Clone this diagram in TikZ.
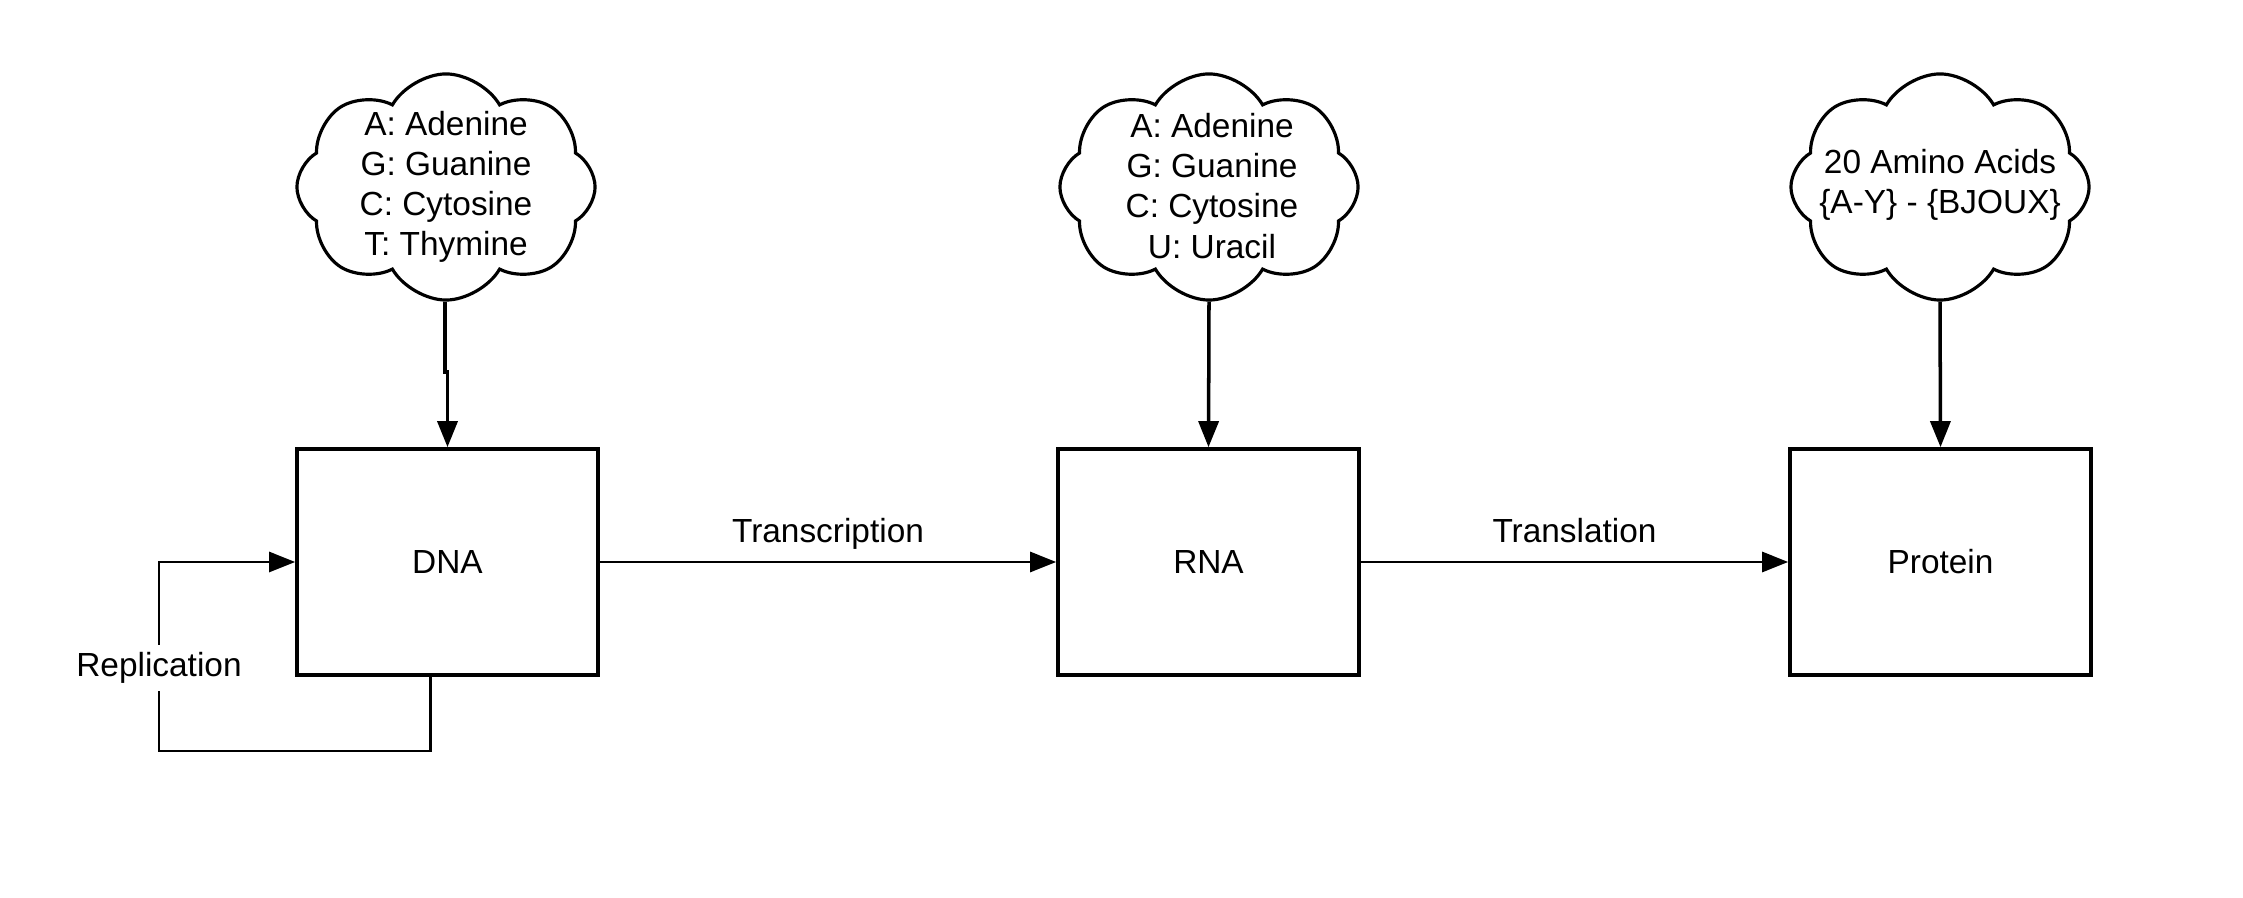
\documentclass[tikz,border=0pt]{standalone}
\usepackage{fontspec}
\setmainfont{Liberation Sans}
\usetikzlibrary{arrows.meta,shapes.symbols}
\tikzset{
  box/.style={draw, line width=1pt, minimum width=3.01cm, minimum height=2.26cm, inner sep=0pt},
  wolke/.style={cloud, draw, line width=0.9pt, cloud puffs=8, cloud puff arc=120, cloud ignores aspect,
    minimum width=2.98cm, minimum height=2.26cm, inner sep=0pt},
  wolkentext/.style={align=center, inner sep=0pt},
  pfeil/.style={-{Triangle[length=0.26cm,width=0.2cm]}, line width=1pt},
  beschr/.style={font=\fontsize{9.5}{11.4}\selectfont}
}
\begin{document}
\begin{tikzpicture}[x=0.01cm, y=-0.01cm, beschr]
  \useasboundingbox (0,0) rectangle (2243,898);

  % Kaesten
  \node[box] (dna) at (447.5,562) {DNA};
  \node[box] (rna) at (1208.5,562) {RNA};
  \node[box] (protein) at (1940.5,562) {Protein};

  % Wolken
  \node[wolke] (basenDNA) at (446,187) {};
  \node[wolke] (basenRNA) at (1209,187) {};
  \node[wolke] (aminos) at (1940,187) {};
  \node[wolkentext] (textDNA) at (446,187) {A: Adenine\\G: Guanine\\C: Cytosine\\T: Thymine};
  \node[wolkentext] (textRNA) at (1212,186) {A: Adenine\\G: Guanine\\C: Cytosine\\U: Uracil};
  \node[wolkentext] (textAminos) at (1940,185) {20 Amino Acids\\\{A-Y\} - \{BJOUX\}};

  % Pfeile von den Wolken
  \coordinate (knick) at (445,372);
  \draw[pfeil] (basenDNA.south -| knick) -- (knick) -| (dna.north);
  \draw[pfeil] (basenRNA.south) -- (rna.north);
  \draw[pfeil] (aminos.south) -- (protein.north);

  % Transkription und Translation
  \draw[pfeil, line width=0.8pt] (dna.east) -- (rna.west) node[midway, anchor=base, yshift=0.19cm] {Transcription};
  \draw[pfeil, line width=0.8pt] (rna.east) -- (protein.west) node[midway, anchor=base, yshift=0.19cm] {Translation};

  % Replikation
  \coordinate (unten) at (159,751);
  \draw[pfeil, line width=0.8pt] ([xshift=-0.17cm]dna.south) |- (unten) |- (dna.west);
  \node[fill=white, inner sep=2pt] (replikation) at (159,668) {Replication};
\end{tikzpicture}
\end{document}
